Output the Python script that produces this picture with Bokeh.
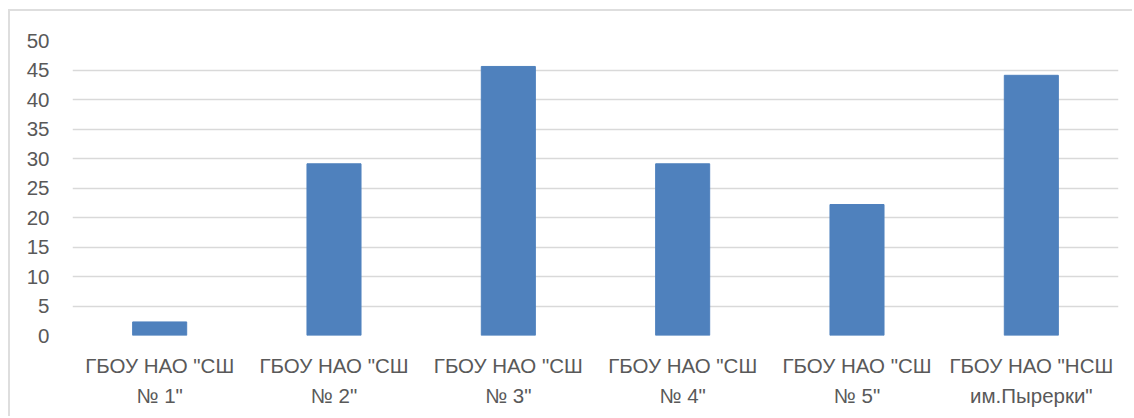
from bokeh.plotting import figure
from bokeh.models import FactorRange, Range1d, FixedTicker, ColumnDataSource
from bokeh.embed import file_html
from bokeh.resources import INLINE

categories = [
    'ГБОУ НАО "СШ\n№ 1"',
    'ГБОУ НАО "СШ\n№ 2"',
    'ГБОУ НАО "СШ\n№ 3"',
    'ГБОУ НАО "СШ\n№ 4"',
    'ГБОУ НАО "СШ\n№ 5"',
    'ГБОУ НАО "НСШ\nим.Пырерки"',
]
values = [2.3, 29.1, 45.6, 29.1, 22.2, 44.1]
y_ticks = [0, 5, 10, 15, 20, 25, 30, 35, 40, 45, 50]

FONT = "Liberation Sans"
TEXT_COLOR = "#595959"
GRID_COLOR = "#D9D9D9"
BAR_COLOR = "#4F81BD"

src = ColumnDataSource(dict(cat=categories, val=values))

p = figure(
    width=1124, height=407,
    x_range=FactorRange(*categories, range_padding=0),
    y_range=Range1d(0, 50),
    output_backend="svg", toolbar_location=None,
    min_border_left=62, min_border_right=16,
    min_border_top=29, min_border_bottom=83,
)
p.styles = {
    "border-top": "2px solid #DEDEDE",
    "border-left": "2px solid #DEDEDE",
    "margin-top": "9px",
    "margin-left": "8px",
}
p.outline_line_color = None
p.background_fill_color = "white"
p.border_fill_color = "white"

p.vbar(x="cat", top="val", width=0.31, source=src, color=BAR_COLOR)

p.xgrid.grid_line_color = None
p.ygrid.grid_line_color = GRID_COLOR
p.ygrid.grid_line_width = 1.3

p.yaxis.ticker = FixedTicker(ticks=y_ticks)
for ax in (p.xaxis[0], p.yaxis[0]):
    ax.axis_line_color = None
    ax.major_tick_line_color = None
    ax.minor_tick_line_color = None
    ax.major_tick_out = 0
    ax.major_tick_in = 0
    ax.major_label_text_font = FONT
    ax.major_label_text_font_size = "20.5px"
    ax.major_label_text_color = TEXT_COLOR

p.yaxis.major_label_standoff = 23
p.xaxis.major_label_standoff = 18
p.xaxis.major_label_text_line_height = 1.32

open("out.html", "w").write(file_html(p, INLINE))
